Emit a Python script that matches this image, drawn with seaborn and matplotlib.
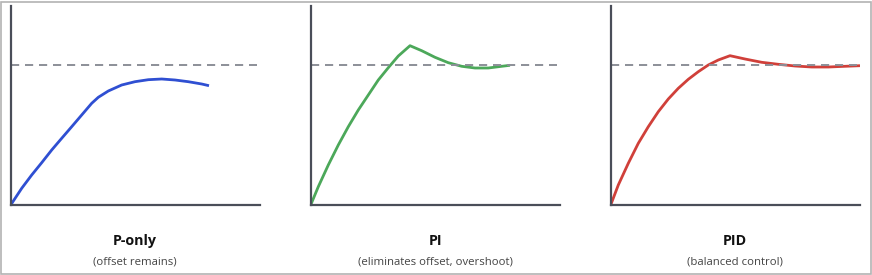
import matplotlib
matplotlib.use("Agg")
import matplotlib.pyplot as plt
import seaborn as sns
import pandas as pd
from matplotlib.patches import Rectangle

sns.set_style("white")
plt.rcParams['font.family'] = ['Open Sans', 'DejaVu Sans']

# Data (arbitrary units, setpoint = 140)
setpoint = 140
titles = ["P-only", "PI", "PID"]
subtitles = ["(offset remains)", "(eliminates offset, overshoot)", "(balanced control)"]
colors = ["#2f4fd2", "#4ca85a", "#d0403a"]

p_x = [0, 11, 21, 31, 41, 51, 61, 71, 81, 87.6, 97.6, 111, 124.3, 137.6,
       151, 164.3, 177.6, 191, 198.3]
p_y = [0, 16.7, 30, 42.3, 55, 66.7, 78.3, 90, 101.7, 107.7, 114, 120, 123.3,
       125.3, 126, 125, 123.3, 121, 119.3]

pi_x = [0, 7.6, 17.6, 27.6, 37.6, 47.6, 57.6, 67.6, 77.6, 87.6, 99.3, 111,
        124.3, 137.6, 151, 164.3, 177.6, 191, 199.3]
pi_y = [0, 18.3, 40, 60, 78.3, 95, 110, 125, 137.3, 149, 159.3, 154.3,
        147.7, 142.3, 138.7, 137, 137, 138.7, 139.7]

pid_x = [0, 7.6, 17.6, 27.6, 37.6, 47.6, 57.6, 67.6, 77.6, 87.6, 97.6, 107.6,
         119.3, 134.3, 151, 167.6, 184.3, 201, 217.6, 234.3, 249.3]
pid_y = [0, 20, 41.7, 61.7, 78.3, 93.3, 106, 116.7, 125.7, 133.3, 140, 145,
         149.3, 146, 142.7, 140.7, 139, 138, 138, 138.7, 139.3]

series_x = [p_x, pi_x, pid_x]
series_y = [p_y, pi_y, pid_y]

W, H = 872, 275
fig = plt.figure(figsize=(W / 100, H / 100), dpi=100)

lefts = [10.7, 310.7, 610.7]
ax_w, ax_h = 249, 199
ax_bottom = 70

for i in range(3):
    ax = fig.add_axes([lefts[i] / W, ax_bottom / H, ax_w / W, ax_h / H])
    df = pd.DataFrame({"t": series_x[i], "y": series_y[i]})
    sns.lineplot(data=df, x="t", y="y", ax=ax, color=colors[i], lw=2.0,
                 sort=False, estimator=None, solid_capstyle="butt",
                 solid_joinstyle="round")
    ax.axhline(setpoint, xmin=0, xmax=246.5 / 249, color="#8c8f98", lw=1.4,
               dashes=(4.2, 3.0))
    ax.set_xlim(0, 249)
    ax.set_ylim(0, 199)
    ax.set_xlabel("")
    ax.set_ylabel("")
    ax.set_xticks([])
    ax.set_yticks([])
    for s in ["top", "right"]:
        ax.spines[s].set_visible(False)
    for s in ["left", "bottom"]:
        ax.spines[s].set_color("#4a4e59")
        ax.spines[s].set_linewidth(1.6)
    ax.patch.set_alpha(0)
    cx = (lefts[i] + ax_w / 2) / W
    fig.text(cx, 1 - 241 / H, titles[i], ha="center", va="center",
             fontsize=10.3, fontweight="bold", color="#111111")
    fig.text(cx, 1 - 262 / H, subtitles[i], ha="center", va="center",
             fontsize=8.2, color="#444444")

fig.patches.append(Rectangle((0.5 / W, 1.5 / H), (W - 2) / W, (H - 3) / H,
                             transform=fig.transFigure, fill=False,
                             edgecolor="#b3b3b3", lw=1.2))

fig.savefig("out.png", dpi=100)
